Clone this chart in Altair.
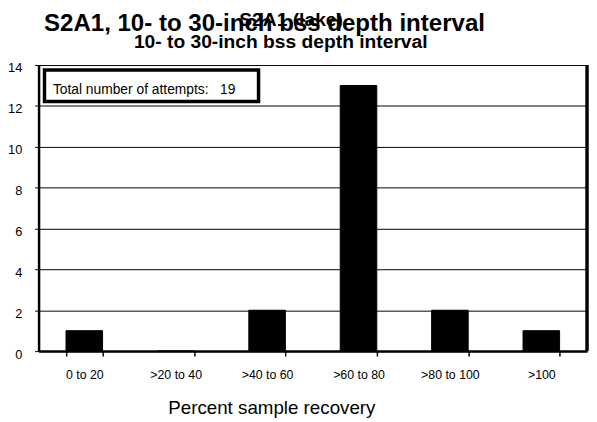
import altair as alt
import pandas as pd

categories = ["0 to 20", ">20 to 40", ">40 to 60", ">60 to 80", ">80 to 100", ">100"]
counts = [1, 0, 2, 13, 2, 1]
y_ticks = [0, 2, 4, 6, 8, 10, 12, 14]
main_title = "S2A1, 10- to 30-inch bss depth interval"
title_line1 = "S2A1 (lake)"
title_line2 = "10- to 30-inch bss depth interval"
note_text = "Total number of attempts:\u00a0\u00a0\u00a019"
x_title = "Percent sample recovery"

FONT = "Liberation Sans"
W, H = 556, 290

df = pd.DataFrame({"cat": categories, "n": counts})

bars = alt.Chart(df).mark_bar(color="black", stroke="black", strokeWidth=1).encode(
    x=alt.X(
        "cat:N",
        sort=categories,
        scale=alt.Scale(paddingInner=0.6, paddingOuter=0.3),
        axis=alt.Axis(
            title=x_title,
            labelAngle=0,
            tickBand="extent",
            tickSize=5,
            tickWidth=1.5,
            tickColor="black",
            domainColor="black",
            domainWidth=2.5,
            labelFontSize=12.5,
            labelColor="black",
            labelPadding=13,
            labelFont=FONT,
            titleFont=FONT,
            titleFontSize=19,
            titleFontWeight="normal",
            titleColor="black",
            titleX=236,
            titleY=63,
            titleBaseline="alphabetic",
            grid=False,
            zindex=1,
        ),
    ),
    y=alt.Y(
        "n:Q",
        scale=alt.Scale(domain=[0, 14], nice=False),
        axis=alt.Axis(
            title=None,
            values=y_ticks,
            tickSize=4,
            tickColor="black",
            domainColor="black",
            domainWidth=2.5,
            labelFontSize=13,
            labelColor="black",
            labelFont=FONT,
            labelPadding=13,
            labelOffset=3,
            grid=True,
            gridColor="black",
            gridWidth=1,
        ),
    ),
)

one = pd.DataFrame({"k": [0]})

right_border = alt.Chart(one).mark_rule(color="black", strokeWidth=3.5).encode(
    x=alt.value(W), y=alt.value(0), y2=alt.value(H)
)

note_box = alt.Chart(one).mark_rect(fill="white", stroke="black", strokeWidth=3.5).encode(
    x=alt.value(6), x2=alt.value(223), y=alt.value(5), y2=alt.value(37)
)

note = alt.Chart(pd.DataFrame({"t": [note_text]})).mark_text(
    font=FONT, fontSize=14, color="black", align="left", baseline="alphabetic"
).encode(text="t:N", x=alt.value(14.5), y=alt.value(29.7))

t_main = alt.Chart(pd.DataFrame({"t": [main_title]})).mark_text(
    font=FONT, fontSize=24.4, fontWeight="bold", color="black", align="center", baseline="alphabetic"
).encode(text="t:N", x=alt.value(229), y=alt.value(-34.5))

t_l1 = alt.Chart(pd.DataFrame({"t": [title_line1]})).mark_text(
    font=FONT, fontSize=19.5, fontWeight="bold", color="black", align="center", baseline="alphabetic"
).encode(text="t:N", x=alt.value(256), y=alt.value(-40))

t_l2 = alt.Chart(pd.DataFrame({"t": [title_line2]})).mark_text(
    font=FONT, fontSize=19.5, fontWeight="bold", color="black", align="center", baseline="alphabetic"
).encode(text="t:N", x=alt.value(245.5), y=alt.value(-17))

chart = alt.layer(bars, right_border, note_box, note, t_main, t_l1, t_l2).properties(
    width=W,
    height=H,
    autosize=alt.AutoSizeParams(type="none"),
    padding={"left": 31, "top": 55, "right": 2, "bottom": 67},
    background="white",
).configure_view(stroke="black", strokeWidth=2).configure(font=FONT)

chart.save("out.html", embed_options={"renderer": "svg", "actions": False})
